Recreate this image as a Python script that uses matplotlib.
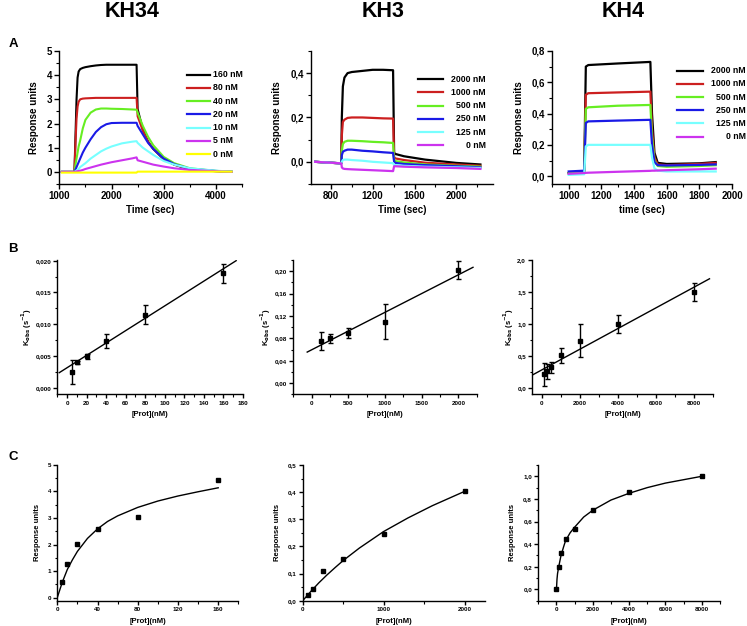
import numpy as np
import matplotlib
matplotlib.use("Agg")
import matplotlib.pyplot as plt
from matplotlib.ticker import MultipleLocator, FuncFormatter

plt.rcParams['font.family'] = ['Liberation Sans', 'DejaVu Sans']
plt.rcParams['font.weight'] = 'bold'

# ---------------- panel A : sensorgrams ----------------
series_colors = ['#000000', '#cc1f1f', '#66ee22', '#1a1ae6', '#77ffff', '#cc33ee', '#ffff00']

kh34_labels = ['160 nM', '80 nM', '40 nM', '20 nM', '10 nM', '5 nM', '0 nM']
kh34_time = [1050, 1290, 1310, 1330, 1350, 1370, 1400, 1450, 1500, 1600, 1700, 1800, 1900,
             2000, 2200, 2400, 2480, 2500, 2600, 2700, 2800, 3000, 3200, 3500, 4000, 4300]
kh34_160 = [0.0, 0.0, 1.5, 3.0, 3.9, 4.15, 4.25, 4.3, 4.33, 4.37, 4.4, 4.42, 4.43,
            4.43, 4.43, 4.43, 4.43, 2.6, 1.75, 1.25, 0.95, 0.52, 0.3, 0.1, 0.03, 0.0]
kh34_80 = [0.0, 0.0, 1.2, 2.2, 2.7, 2.9, 3.0, 3.03, 3.04, 3.05, 3.06, 3.06, 3.06,
           3.06, 3.06, 3.06, 3.06, 2.3, 1.7, 1.25, 0.95, 0.55, 0.3, 0.12, 0.03, 0.0]
kh34_40 = [0.0, 0.0, 0.3, 0.55, 0.8, 1.05, 1.3, 1.8, 2.15, 2.45, 2.58, 2.62, 2.62,
           2.61, 2.6, 2.58, 2.57, 2.45, 1.9, 1.45, 1.1, 0.62, 0.36, 0.15, 0.04, 0.01]
kh34_20 = [0.0, 0.0, 0.1, 0.2, 0.3, 0.4, 0.55, 0.8, 1.0, 1.35, 1.65, 1.85, 1.97,
           2.02, 2.03, 2.03, 2.03, 1.9, 1.55, 1.2, 0.95, 0.55, 0.32, 0.13, 0.04, 0.01]
kh34_10 = [0.0, 0.0, 0.03, 0.06, 0.09, 0.12, 0.2, 0.28, 0.36, 0.55, 0.7, 0.85, 0.96,
           1.05, 1.18, 1.25, 1.27, 1.2, 1.0, 0.85, 0.7, 0.45, 0.3, 0.15, 0.05, 0.01]
kh34_5 = [0.0, 0.0, 0.01, 0.02, 0.03, 0.04, 0.05, 0.08, 0.12, 0.18, 0.24, 0.3, 0.35,
          0.4, 0.48, 0.56, 0.6, 0.48, 0.42, 0.36, 0.3, 0.22, 0.15, 0.08, 0.03, 0.0]
kh34_0 = [-0.03, -0.03, -0.03, -0.03, -0.03, -0.03, -0.03, -0.03, -0.03, -0.03, -0.03, -0.03, -0.03,
          -0.03, -0.03, -0.03, -0.03, 0.01, 0.01, 0.01, 0.01, 0.01, 0.01, 0.01, 0.01, 0.01]

kh3_labels = ['2000 nM', '1000 nM', '500 nM', '250 nM', '125 nM', '0 nM']
kh3_time = [650, 900, 905, 915, 930, 960, 1000, 1100, 1200, 1300, 1395, 1405, 1420, 1500, 1700, 2000, 2230]
kh3_2000 = [0.0, -0.007, 0.2, 0.34, 0.38, 0.40, 0.405, 0.41, 0.415, 0.415, 0.413, 0.04, 0.035, 0.025, 0.01, -0.005, -0.012]
kh3_1000 = [0.0, -0.007, 0.12, 0.18, 0.19, 0.198, 0.2, 0.2, 0.198, 0.196, 0.195, 0.02, 0.015, 0.008, -0.004, -0.012, -0.018]
kh3_500 = [0.0, -0.007, 0.05, 0.08, 0.09, 0.095, 0.095, 0.093, 0.09, 0.088, 0.085, 0.008, 0.003, -0.003, -0.012, -0.018, -0.022]
kh3_250 = [0.0, -0.007, 0.03, 0.045, 0.05, 0.055, 0.055, 0.05, 0.047, 0.043, 0.04, 0.0, -0.005, -0.01, -0.015, -0.02, -0.025]
kh3_125 = [0.0, -0.007, 0.0, 0.008, 0.01, 0.01, 0.008, 0.005, 0.0, -0.003, -0.006, -0.015, -0.015, -0.018, -0.022, -0.025, -0.028]
kh3_0 = [0.0, -0.007, -0.025, -0.03, -0.032, -0.033, -0.034, -0.036, -0.038, -0.04, -0.042, -0.02, -0.02, -0.022, -0.025, -0.028, -0.032]

kh4_labels = ['2000 nM', '1000 nM', '500 nM', '250 nM', '125 nM', '0 nM']
kh4_time = [1000, 1095, 1105, 1120, 1300, 1500, 1510, 1525, 1545, 1600, 1800, 1900]
kh4_2000 = [0.02, 0.03, 0.70, 0.71, 0.72, 0.73, 0.4, 0.15, 0.085, 0.078, 0.082, 0.09]
kh4_1000 = [0.02, 0.03, 0.52, 0.53, 0.535, 0.54, 0.3, 0.12, 0.075, 0.07, 0.078, 0.085]
kh4_500 = [0.02, 0.03, 0.43, 0.44, 0.45, 0.455, 0.25, 0.1, 0.065, 0.06, 0.065, 0.07]
kh4_250 = [0.03, 0.035, 0.34, 0.35, 0.355, 0.36, 0.2, 0.09, 0.07, 0.068, 0.072, 0.075]
kh4_125 = [0.008, 0.012, 0.19, 0.2, 0.2, 0.2, 0.12, 0.05, 0.035, 0.03, 0.03, 0.03]
kh4_0 = [0.015, 0.02, 0.021, 0.022, 0.028, 0.034, 0.035, 0.035, 0.036, 0.038, 0.044, 0.048]

# ---------------- panel B : kobs vs [Prot] ----------------
kh34_b_conc = [5, 10, 20, 40, 80, 160]
kh34_b_kobs = [0.0025, 0.0040, 0.0050, 0.0074, 0.0115, 0.0180]
kh34_b_err = [0.0019, 0.0002, 0.0004, 0.0011, 0.0015, 0.0015]
kh34_b_fit_x = [-8, 173]
kh34_b_fit_y = [0.0024, 0.0200]

kh3_b_conc = [125, 250, 500, 1000, 2000]
kh3_b_kobs = [0.076, 0.080, 0.090, 0.110, 0.202]
kh3_b_err = [0.016, 0.008, 0.009, 0.032, 0.016]
kh3_b_fit_x = [-60, 2200]
kh3_b_fit_y = [0.0555, 0.207]

kh4_b_conc = [125, 250, 500, 1000, 2000, 4000, 8000]
kh4_b_kobs = [0.21, 0.26, 0.32, 0.51, 0.74, 1.00, 1.50]
kh4_b_err = [0.18, 0.12, 0.09, 0.12, 0.26, 0.14, 0.14]
kh4_b_fit_x = [-520, 8800]
kh4_b_fit_y = [0.198, 1.707]

# ---------------- panel C : response vs [Prot] ----------------
kh34_c_conc = [5, 10, 20, 40, 80, 160]
kh34_c_resp = [0.57, 1.25, 2.03, 2.58, 3.05, 4.42]
kh34_c_fit_x = [0, 5, 10, 15, 20, 30, 40, 50, 60, 80, 100, 120, 140, 160]
kh34_c_fit_y = [0.0, 0.58, 1.06, 1.42, 1.74, 2.23, 2.59, 2.87, 3.08, 3.40, 3.64, 3.83, 3.99, 4.14]

kh3_c_conc = [62.5, 125, 250, 500, 1000, 2000]
kh3_c_resp = [0.020, 0.043, 0.108, 0.155, 0.246, 0.403]
kh3_c_fit_x = [0, 100, 200, 300, 400, 500, 700, 1000, 1300, 1600, 2000]
kh3_c_fit_y = [0.0, 0.034, 0.066, 0.095, 0.122, 0.148, 0.194, 0.255, 0.305, 0.350, 0.403]

kh4_c_conc = [0, 125, 250, 500, 1000, 2000, 4000, 8000]
kh4_c_resp = [0.0, 0.20, 0.32, 0.45, 0.53, 0.70, 0.86, 1.00]
kh4_c_fit_x = [0, 30, 60, 125, 250, 400, 500, 750, 1000, 1500, 2000, 3000, 4000, 5000, 6000, 7000, 8000]
kh4_c_fit_y = [0.0, 0.09, 0.14, 0.20, 0.30, 0.38, 0.43, 0.50, 0.55, 0.64, 0.70, 0.79, 0.85, 0.90, 0.94, 0.97, 1.00]


def comma_fmt(nd):
    return FuncFormatter(lambda v, p: ('%.*f' % (nd, v)).replace('.', ',').replace('-0,' + '0' * nd, '0,' + '0' * nd))


def style_axes(ax, xmaj, xmin, ymaj, ymin, fs, tl_major=3.5, tl_minor=2):
    for s in ['top', 'right']:
        ax.spines[s].set_visible(False)
    for s in ['left', 'bottom']:
        ax.spines[s].set_linewidth(1.0)
    ax.xaxis.set_major_locator(MultipleLocator(xmaj))
    ax.xaxis.set_minor_locator(MultipleLocator(xmin))
    ax.yaxis.set_major_locator(MultipleLocator(ymaj))
    ax.yaxis.set_minor_locator(MultipleLocator(ymin))
    ax.tick_params(which='major', direction='out', length=tl_major, width=1.0, labelsize=fs, pad=1.5)
    ax.tick_params(which='minor', direction='out', length=tl_minor, width=0.8)
    for lab in ax.get_xticklabels() + ax.get_yticklabels():
        lab.set_fontweight('bold')


def manual_legend(ax, labels, colors, x0, x1, xt, ytop, dy, ha):
    for i, (lab, c) in enumerate(zip(labels, colors)):
        y = ytop - i * dy
        ax.plot([x0, x1], [y, y], color=c, lw=1.6, transform=ax.transAxes, clip_on=False)
        ax.text(xt, y, lab, transform=ax.transAxes, ha=ha, va='center', fontsize=6.3, fontweight='bold')


fig = plt.figure(figsize=(7.47, 6.26), dpi=100)

# titles and panel letters
for x, t in [(0.177, 'KH34'), (0.513, 'KH3'), (0.834, 'KH4')]:
    fig.text(x, 0.981, t, ha='center', va='center', fontsize=15.5, fontweight='bold')
for y, t in [(0.929, 'A'), (0.603, 'B'), (0.270, 'C')]:
    fig.text(0.011, y, t, ha='left', va='center', fontsize=9.5, fontweight='bold')

# ---- A / KH34
ax = fig.add_axes([0.0794, 0.7061, 0.2446, 0.2125])
for ys, c in zip([kh34_160, kh34_80, kh34_40, kh34_20, kh34_10, kh34_5, kh34_0], series_colors):
    ax.plot(kh34_time, ys, color=c, lw=1.5)
ax.set_xlim(1000, 4500)
ax.set_ylim(-0.5, 5)
style_axes(ax, 1000, 500, 1, 0.5, 7)
ax.set_xlabel('Time (sec)', fontsize=7, fontweight='bold', labelpad=3)
ax.set_ylabel('Response units', fontsize=7, fontweight='bold', labelpad=6)
manual_legend(ax, kh34_labels, series_colors, 0.70, 0.825, 0.842, 0.822, 0.0995, 'left')

# ---- A / KH3
ax = fig.add_axes([0.4163, 0.7061, 0.2436, 0.2125])
for ys, c in zip([kh3_2000, kh3_1000, kh3_500, kh3_250, kh3_125, kh3_0], series_colors):
    ax.plot(kh3_time, ys, color=c, lw=1.6)
ax.set_xlim(610, 2350)
ax.set_ylim(-0.1, 0.5)
style_axes(ax, 400, 200, 0.2, 0.1, 7)
ax.yaxis.set_major_formatter(comma_fmt(1))
ax.set_xlabel('Time (sec)', fontsize=7, fontweight='bold', labelpad=3)
ax.set_ylabel('Response units', fontsize=7, fontweight='bold', labelpad=6)
manual_legend(ax, kh3_labels, series_colors, 0.588, 0.725, 0.962, 0.787, 0.0992, 'right')

# ---- A / KH4
ax = fig.add_axes([0.7394, 0.7061, 0.2406, 0.2125])
for ys, c in zip([kh4_2000, kh4_1000, kh4_500, kh4_250, kh4_125, kh4_0], series_colors):
    ax.plot(kh4_time, ys, color=c, lw=1.6)
ax.set_xlim(900, 2000)
ax.set_ylim(-0.05, 0.8)
style_axes(ax, 200, 100, 0.2, 0.1, 7)
ax.yaxis.set_major_formatter(comma_fmt(1))
ax.set_xlabel('time (sec)', fontsize=7, fontweight='bold', labelpad=3)
ax.set_ylabel('Response units', fontsize=7, fontweight='bold', labelpad=6)
manual_legend(ax, kh4_labels, series_colors, 0.692, 0.840, 1.075, 0.852, 0.0992, 'right')

# ---- panel B
b_specs = [
    ([0.0767, 0.3701, 0.2486, 0.2145], kh34_b_conc, kh34_b_kobs, kh34_b_err, kh34_b_fit_x, kh34_b_fit_y,
     (-10, 180), (-0.001, 0.0201), (20, 10, 0.005, 0.0025), 3),
    ([0.3926, 0.3701, 0.2455, 0.2145], kh3_b_conc, kh3_b_kobs, kh3_b_err, kh3_b_fit_x, kh3_b_fit_y,
     (-250, 2250), (-0.02, 0.22), (500, 250, 0.04, 0.02), 2),
    ([0.7126, 0.3701, 0.2423, 0.2145], kh4_b_conc, kh4_b_kobs, kh4_b_err, kh4_b_fit_x, kh4_b_fit_y,
     (-500, 9000), (-0.1, 2.0), (2000, 1000, 0.5, 0.25), 1),
]
for rect, xs, ys, es, fx, fy, xl, yl, loc, nd in b_specs:
    ax = fig.add_axes(rect)
    ax.plot(fx, fy, color='black', lw=1.0)
    ax.errorbar(xs, ys, yerr=es, fmt='s', color='black', ms=3.2, capsize=1.8, elinewidth=1.0, capthick=1.0)
    ax.set_xlim(*xl)
    ax.set_ylim(*yl)
    style_axes(ax, loc[0], loc[1], loc[2], loc[3], 4.5, 3, 1.8)
    ax.yaxis.set_major_formatter(comma_fmt(nd))
    ax.set_xlabel('[Prot](nM)', fontsize=5.5, fontweight='bold', labelpad=4)
    ax.set_ylabel(r'K$_{\mathbf{obs}}$ (s$^{\mathbf{-1}}$)', fontsize=5.5, fontweight='bold', labelpad=1)

# ---- panel C
c_specs = [
    ([0.0767, 0.0404, 0.2423, 0.2168], kh34_c_conc, kh34_c_resp, kh34_c_fit_x, kh34_c_fit_y,
     (0, 180), (-0.12, 5), (40, 20, 1, 0.5), 0),
    ([0.4052, 0.0404, 0.2440, 0.2168], kh3_c_conc, kh3_c_resp, kh3_c_fit_x, kh3_c_fit_y,
     (0, 2250), (0, 0.5), (1000, 500, 0.1, 0.05), 1),
    ([0.7206, 0.0404, 0.2432, 0.2168], kh4_c_conc, kh4_c_resp, kh4_c_fit_x, kh4_c_fit_y,
     (-1000, 9000), (-0.1, 1.1), (2000, 1000, 0.2, 0.1), 1),
]
for rect, xs, ys, fx, fy, xl, yl, loc, nd in c_specs:
    ax = fig.add_axes(rect)
    ax.plot(fx, fy, color='black', lw=1.0)
    ax.plot(xs, ys, 's', color='black', ms=3.2)
    ax.set_xlim(*xl)
    ax.set_ylim(*yl)
    style_axes(ax, loc[0], loc[1], loc[2], loc[3], 4.5, 3, 1.8)
    if nd:
        ax.yaxis.set_major_formatter(comma_fmt(nd))
    ax.set_xlabel('[Prot](nM)', fontsize=5.5, fontweight='bold', labelpad=4)
    ax.set_ylabel('Response units', fontsize=5.5, fontweight='bold', labelpad=5)

fig.savefig('out.png', dpi=100)
